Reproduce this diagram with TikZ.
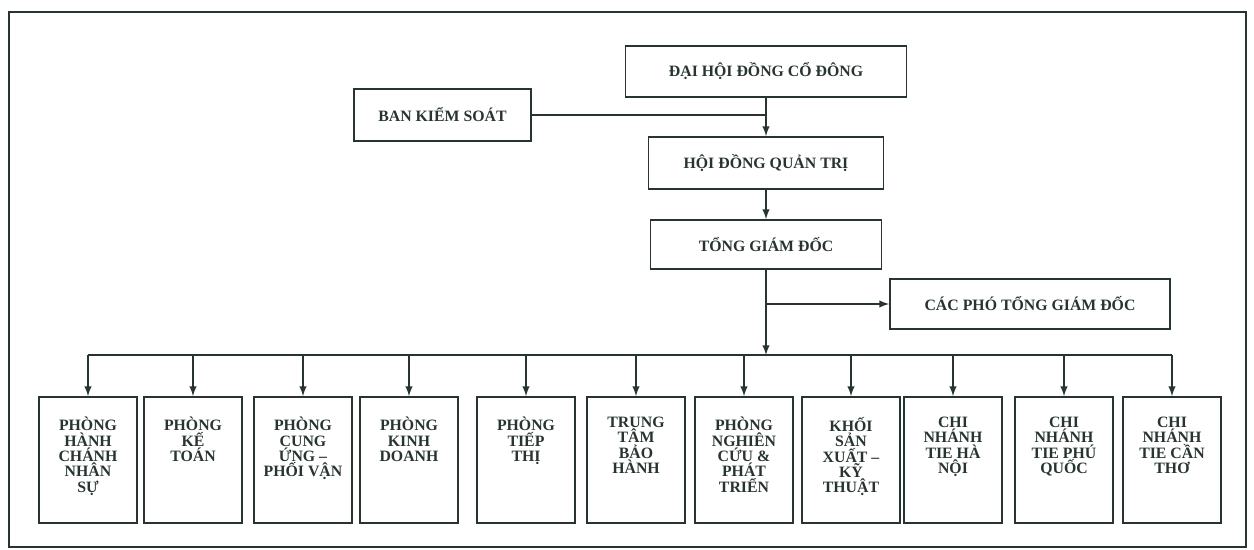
\documentclass[tikz,border=0pt]{standalone}
\usepackage{fontspec}
\setmainfont{Liberation Serif}
\usepackage{tikz}

\definecolor{ink}{RGB}{40,52,50}
\newcommand{\unittext}[1]{\parbox[c][2.52cm][t]{1.94cm}{\vspace*{0.40cm}\centering #1}}

\begin{document}
\begin{tikzpicture}[box/.style = {draw=ink, line width=1pt, inner sep=0pt, text=ink, font={\bfseries\fontsize{9}{10}\selectfont}},
        unit/.style = {draw=ink, line width=1pt, inner sep=0pt, minimum width=1.96cm, minimum height=2.52cm, text=ink, font={\bfseries\fontsize{9}{8.8}\selectfont\lineskiplimit=-5pt}},
        line/.style = {draw=ink, line width=0.9pt}]
        \useasboundingbox (0,0) rectangle (25.08,11);
        \draw[ink, line width=1.3pt] (0.18,0.06) rectangle (24.92,10.76);
        % upper levels
        \node[box, minimum width=5.62cm, minimum height=1.02cm] (dhd) at (15.32,9.57) {ĐẠI HỘI ĐỒNG CỔ ĐÔNG};
        \node[box, minimum width=3.54cm, minimum height=1.04cm] (bks) at (8.85,8.70) {BAN KIỂM SOÁT};
        \node[box, minimum width=4.70cm, minimum height=1.04cm] (hdqt) at (15.32,7.74) {HỘI ĐỒNG QUẢN TRỊ};
        \node[box, minimum width=4.62cm, minimum height=0.98cm] (tgd) at (15.32,6.11) {TỔNG GIÁM ĐỐC};
        \node[box, minimum width=5.60cm, minimum height=1.00cm] (pho) at (20.60,4.92) {CÁC PHÓ TỔNG GIÁM ĐỐC};
        \coordinate (bus) at (15.32,3.90);
        % departments
        \node[unit] (p1) at (1.76,1.80) {\unittext{PHÒNG\\HÀNH\\CHÁNH\\NHÂN\\SỰ}};
        \node[unit] (p2) at (3.86,1.80) {\unittext{PHÒNG\\KẾ\\TOÁN}};
        \node[unit] (p3) at (6.06,1.80) {\unittext{PHÒNG\\CUNG\\ỨNG –\\PHỐI VẬN}};
        \node[unit] (p4) at (8.18,1.80) {\unittext{PHÒNG\\KINH\\DOANH}};
        \node[unit] (p5) at (10.52,1.80) {\unittext{PHÒNG\\TIẾP\\THỊ}};
        \node[unit] (p6) at (12.72,1.80) {\unittext{TRUNG\\TÂM\\BẢO\\HÀNH}};
        \node[unit] (p7) at (14.88,1.80) {\unittext{PHÒNG\\NGHIÊN\\CỨU \&\\PHÁT\\TRIỂN}};
        \node[unit] (p8) at (17.02,1.80) {\unittext{KHỐI\\SẢN\\XUẤT –\\KỸ\\THUẬT}};
        \node[unit] (p9) at (19.06,1.80) {\unittext{CHI\\NHÁNH\\TIE HÀ\\NỘI}};
        \node[unit] (p10) at (21.28,1.80) {\unittext{CHI\\NHÁNH\\TIE PHÚ\\QUỐC}};
        \node[unit] (p11) at (23.44,1.80) {\unittext{CHI\\NHÁNH\\TIE CẦN\\THƠ}};
        % connectors
        \draw[line, -latex] (dhd) -- (hdqt);
        \draw[line] (bks) -- (bks -| dhd);
        \draw[line, -latex] (hdqt) -- (tgd);
        \draw[line, -latex] (tgd) -- (bus);
        \draw[line, -latex] (tgd.south |- pho) -- (pho);
        \draw[line] (p1.north |- bus) -- (p11.north |- bus);
        \draw[line, -latex] (p1.north |- bus) -- (p1);
        \draw[line, -latex] (p2.north |- bus) -- (p2);
        \draw[line, -latex] (p3.north |- bus) -- (p3);
        \draw[line, -latex] (p4.north |- bus) -- (p4);
        \draw[line, -latex] (p5.north |- bus) -- (p5);
        \draw[line, -latex] (p6.north |- bus) -- (p6);
        \draw[line, -latex] (p7.north |- bus) -- (p7);
        \draw[line, -latex] (p8.north |- bus) -- (p8);
        \draw[line, -latex] (p9.north |- bus) -- (p9);
        \draw[line, -latex] (p10.north |- bus) -- (p10);
        \draw[line, -latex] (p11.north |- bus) -- (p11);
\end{tikzpicture}
\end{document}
